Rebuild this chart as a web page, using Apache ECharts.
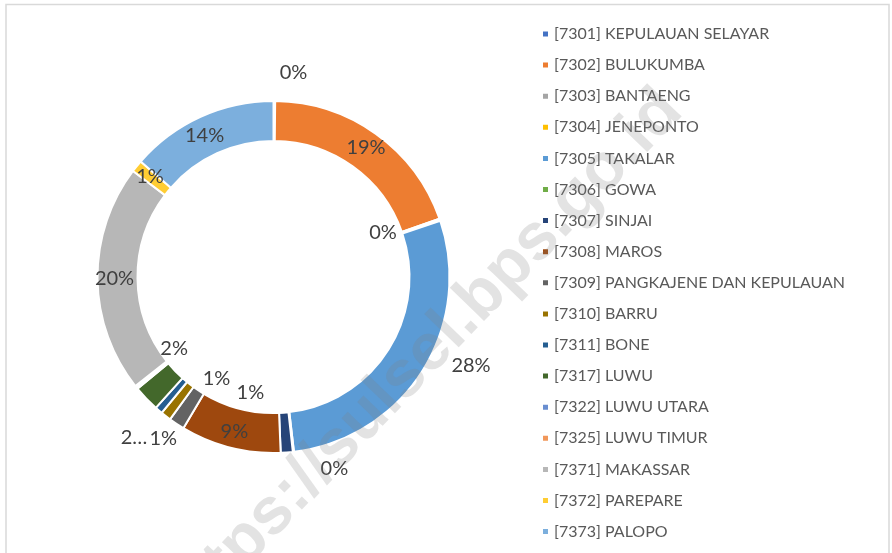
<!DOCTYPE html>
<html>
<head>
<meta charset="utf-8">
<script src="https://cdn.jsdelivr.net/npm/echarts@6/dist/echarts.min.js"></script>
<style>
html,body{margin:0;padding:0;background:#fff;}
#c{width:892px;height:553px;}
</style>
</head>
<body>
<div id="c"></div>
<script>
// Categories (regencies / cities)
var categories = [
  '[7301] KEPULAUAN SELAYAR', '[7302] BULUKUMBA', '[7303] BANTAENG', '[7304] JENEPONTO',
  '[7305] TAKALAR', '[7306] GOWA', '[7307] SINJAI', '[7308] MAROS',
  '[7309] PANGKAJENE DAN KEPULAUAN', '[7310] BARRU', '[7311] BONE', '[7317] LUWU',
  '[7322] LUWU UTARA', '[7325] LUWU TIMUR', '[7371] MAKASSAR', '[7372] PAREPARE', '[7373] PALOPO'
];
// Share of each (percent)
var shares = [0.15, 19.45, 0.1, 0.1, 28.3, 0.1, 1.1, 9.2, 1.45, 0.95, 0.7, 2.4, 0.15, 0.15, 20.9, 1.1, 13.6];
// Data-label texts as printed in the picture
var dataLabels = ['0%', '19%', '0%', '', '28%', '0%', '1%', '9%', '1%', '1%', '2…', '2%', '', '', '20%', '1%', '14%'];
// Where each label sits: on the ring, in the hole, outside, or none
var labelPlace = ['out', 'in', 'hole', 'none', 'out', 'out', 'hole', 'in', 'hole', 'out', 'out', 'hole', 'none', 'none', 'in', 'in', 'in'];

var colors = ['#4472C4', '#ED7D31', '#A5A5A5', '#FFC000', '#5B9BD5', '#70AD47', '#264478', '#9E480E',
  '#636363', '#997300', '#255E91', '#43682B', '#698ED0', '#F1975A', '#B7B7B7', '#FFCD33', '#7CAFDD'];

// label nudges (style only)
var nudge = {
  0: [19, -1], 2: [-2, -6], 4: [26, -20], 5: [38, -10], 6: [-32, -2],
  8: [8, 3], 9: [14, 1], 10: [-7, 7], 11: [-14, -10], 16: [-3, 3]
};

var FONT = 'Lato';
var center = [273.5, 277];
function mkData(place, transparent) {
  return categories.map(function (n, i) {
    var d = { name: n, value: shares[i] };
    if (transparent) d.itemStyle = { color: 'rgba(0,0,0,0)', borderWidth: 0 };
    else d.itemStyle = { color: colors[i] };
    d.label = { show: labelPlace[i] === place, formatter: dataLabels[i] };
    if (nudge[i]) d.label.offset = nudge[i];
    return d;
  });
}
var labelStyle = { position: 'inside', color: '#404040', fontFamily: FONT, fontSize: 20 };

var chart = echarts.init(document.getElementById('c'), null, { renderer: 'canvas' });
chart.setOption({
  backgroundColor: '#fff',
  animation: false,
  legend: {
    orient: 'vertical', left: 536, top: 20,
    data: categories,
    icon: 'rect', itemWidth: 7, itemHeight: 7, itemGap: 13.1,
    selectedMode: false,
    textStyle: { color: '#595959', fontFamily: FONT, fontSize: 16, lineHeight: 18 }
  },
  graphic: [
    { type: 'rect', shape: { x: 6, y: 4.5, width: 883, height: 570 }, style: { fill: 'none', stroke: '#d9d9d9', lineWidth: 1.5 }, z: 0, silent: true },
    { type: 'text', x: 422, y: 359, rotation: 46 * Math.PI / 180, z: 100, silent: true,
      style: { text: 'https://sulsel.bps.go.id', font: 'bold 66px "Liberation Sans"', fill: 'rgba(128,128,128,0.22)', align: 'center', verticalAlign: 'middle' } }
  ],
  series: [
    {
      type: 'pie', center: center, radius: [136, 176], startAngle: 90, clockwise: true,
      avoidLabelOverlap: false, silent: true,
      itemStyle: { borderColor: '#fff', borderWidth: 2 },
      label: labelStyle, labelLine: { show: false },
      data: mkData('in', false)
    },
    {
      type: 'pie', center: center, radius: [95, 135], startAngle: 90, clockwise: true,
      avoidLabelOverlap: false, silent: true,
      label: labelStyle, labelLine: { show: false },
      data: mkData('hole', true)
    },
    {
      type: 'pie', center: center, radius: [180, 220], startAngle: 90, clockwise: true,
      avoidLabelOverlap: false, silent: true,
      label: labelStyle, labelLine: { show: false },
      data: mkData('out', true)
    }
  ]
});
</script>
</body>
</html>
